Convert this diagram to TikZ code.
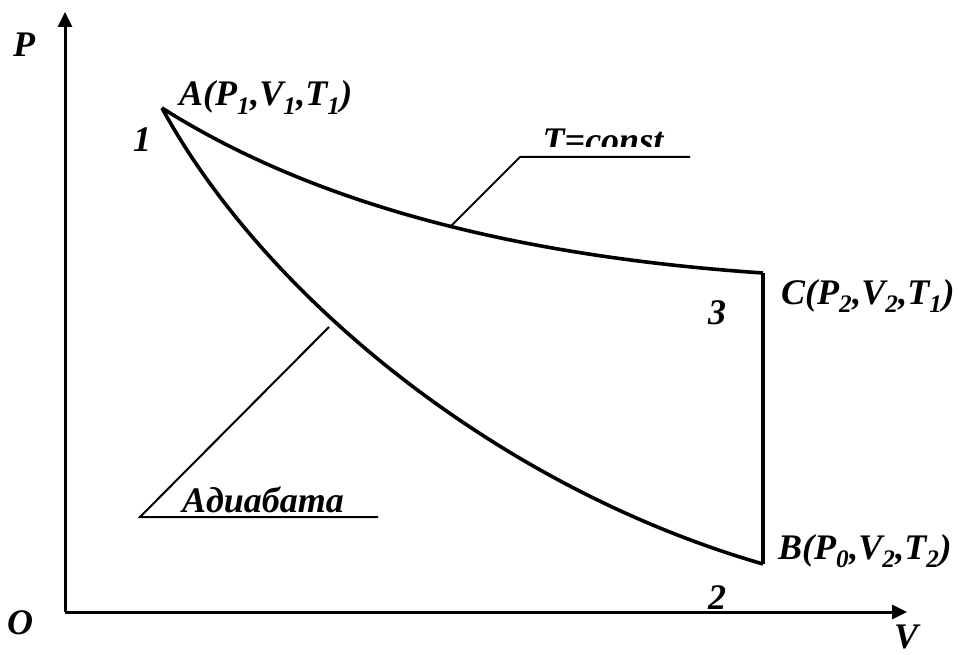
\documentclass[tikz,border=0pt]{standalone}
\usepackage{fontspec}
\setmainfont{Liberation Serif}
\usetikzlibrary{arrows.meta}
\tikzset{
  lbl/.style={font=\fontsize{36}{37}\selectfont\bfseries\itshape, inner sep=0pt},
  curve/.style={line width=3.6pt, line join=miter},
  axis/.style={line width=3pt, -{Triangle[length=15pt,width=14pt]}},
  leader/.style={line width=2pt},
}
\newcommand{\sbs}[1]{\textsubscript{#1}}
\begin{document}
\begin{tikzpicture}[x=1pt,y=-1pt]
\useasboundingbox (0,0) rectangle (958,655);
% axes
\coordinate (O) at (65,612);
\coordinate (Ptop) at (65,12);
\coordinate (Vend) at (907,612);
\draw[axis] (O) -- (Ptop);
\draw[axis] (O) -- (Vend);
% states
\coordinate (A) at (162,108);
\coordinate (C) at (763,273);
\coordinate (B) at (763,564);
\draw[curve] (A) .. controls (312,203) and (513,256) .. (C);
\draw[curve] (A) .. controls (262,292) and (493,486) .. (B);
\draw[curve] (C) -- (B);
% leaders
\coordinate (iso) at (450,227);
\coordinate (isoK) at (520,157);
\coordinate (isoE) at (690,157);
\draw[leader] (iso) -- (isoK) -- (isoE);
\coordinate (adi) at (329,327);
\coordinate (adiK) at (140,517);
\coordinate (adiE) at (378,517);
\draw[leader] (adi) -- (adiK) -- (adiE);
% labels
\node[lbl, anchor=base] (lP) at (24,57) {P};
\node[lbl, anchor=base] (lO) at (20,634) {O};
\node[lbl, anchor=base] (lV) at (906,648) {V};
\node[lbl, anchor=base west] (lA) at (179,106) {A(P\sbs{1},V\sbs{1},T\sbs{1})};
\node[lbl, anchor=base west] (lC) at (781,304) {C(P\sbs{2},V\sbs{2},T\sbs{1})};
\node[lbl, anchor=base west] (lB) at (778,559) {B(P\sbs{0},V\sbs{2},T\sbs{2})};
\node[lbl, anchor=base] (n1) at (142,152) {1};
\node[lbl, anchor=base] (n3) at (717,324) {3};
\node[lbl, anchor=base] (n2) at (717,609) {2};
\node[lbl, anchor=base] (lAd) at (263,512) {Адиабата};
\begin{scope}
\clip (500,100) rectangle (700,147);
\node[lbl, anchor=base] (lT) at (603,153) {T=const};
\end{scope}
\end{tikzpicture}
\end{document}
